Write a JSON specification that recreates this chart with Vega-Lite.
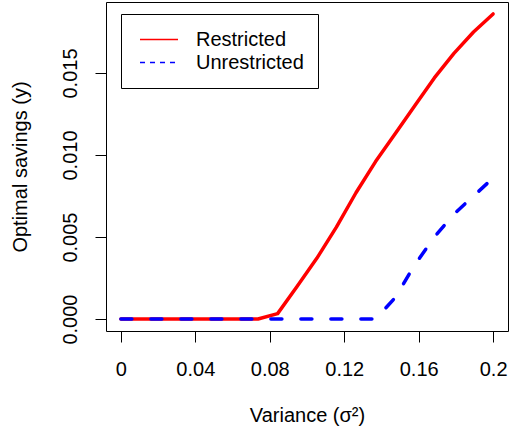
{
  "$schema": "https://vega.github.io/schema/vega-lite/v6.json",
  "width": 402,
  "height": 329,
  "autosize": {"type": "none"},
  "padding": {"left": 106, "top": 2, "right": 1, "bottom": 97},
  "background": "white",
  "config": {
    "view": {"stroke": "black", "strokeWidth": 1},
    "font": "Liberation Sans"
  },
  "data": {
    "values": [
      {"variance": 0, "savings": 0, "series": "Restricted"},
      {"variance": 0.010526, "savings": 0, "series": "Restricted"},
      {"variance": 0.021053, "savings": 0, "series": "Restricted"},
      {"variance": 0.031579, "savings": 0, "series": "Restricted"},
      {"variance": 0.042105, "savings": 0, "series": "Restricted"},
      {"variance": 0.052632, "savings": 0, "series": "Restricted"},
      {"variance": 0.063158, "savings": 0, "series": "Restricted"},
      {"variance": 0.073684, "savings": 0, "series": "Restricted"},
      {"variance": 0.084211, "savings": 0.00033, "series": "Restricted"},
      {"variance": 0.094737, "savings": 0.0020, "series": "Restricted"},
      {"variance": 0.105263, "savings": 0.0037, "series": "Restricted"},
      {"variance": 0.115789, "savings": 0.0056, "series": "Restricted"},
      {"variance": 0.126316, "savings": 0.0077, "series": "Restricted"},
      {"variance": 0.136842, "savings": 0.0096, "series": "Restricted"},
      {"variance": 0.147368, "savings": 0.0113, "series": "Restricted"},
      {"variance": 0.157895, "savings": 0.0130, "series": "Restricted"},
      {"variance": 0.168421, "savings": 0.0147, "series": "Restricted"},
      {"variance": 0.178947, "savings": 0.0162, "series": "Restricted"},
      {"variance": 0.189474, "savings": 0.0175, "series": "Restricted"},
      {"variance": 0.2, "savings": 0.0186, "series": "Restricted"},
      {"variance": 0, "savings": 0, "series": "Unrestricted"},
      {"variance": 0.010526, "savings": 0, "series": "Unrestricted"},
      {"variance": 0.021053, "savings": 0, "series": "Unrestricted"},
      {"variance": 0.031579, "savings": 0, "series": "Unrestricted"},
      {"variance": 0.042105, "savings": 0, "series": "Unrestricted"},
      {"variance": 0.052632, "savings": 0, "series": "Unrestricted"},
      {"variance": 0.063158, "savings": 0, "series": "Unrestricted"},
      {"variance": 0.073684, "savings": 0, "series": "Unrestricted"},
      {"variance": 0.084211, "savings": 0, "series": "Unrestricted"},
      {"variance": 0.094737, "savings": 0, "series": "Unrestricted"},
      {"variance": 0.105263, "savings": 0, "series": "Unrestricted"},
      {"variance": 0.115789, "savings": 0, "series": "Unrestricted"},
      {"variance": 0.126316, "savings": 0, "series": "Unrestricted"},
      {"variance": 0.136842, "savings": 0, "series": "Unrestricted"},
      {"variance": 0.147368, "savings": 0.0013, "series": "Unrestricted"},
      {"variance": 0.157895, "savings": 0.0033, "series": "Unrestricted"},
      {"variance": 0.168421, "savings": 0.0050, "series": "Unrestricted"},
      {"variance": 0.178947, "savings": 0.0064, "series": "Unrestricted"},
      {"variance": 0.189474, "savings": 0.0075, "series": "Unrestricted"},
      {"variance": 0.2, "savings": 0.0086, "series": "Unrestricted"}
    ]
  },
  "encoding": {
    "x": {
      "field": "variance",
      "type": "quantitative",
      "scale": {"domain": [-0.008, 0.208], "nice": false, "zero": false},
      "axis": {
        "values": [0, 0.04, 0.08, 0.12, 0.16, 0.2],
        "format": "~g",
        "domain": false,
        "grid": false,
        "tickSize": 11,
        "tickColor": "black",
        "tickWidth": 1,
        "labelFont": "Liberation Sans",
        "labelFontSize": 20,
        "labelColor": "black",
        "labelPadding": 17,
        "labelFlush": false,
        "labelOverlap": false,
        "title": "Variance (σ²)",
        "titleFont": "Liberation Sans",
        "titleFontSize": 20,
        "titleFontWeight": "normal",
        "titleColor": "black",
        "titlePadding": 26
      }
    },
    "y": {
      "field": "savings",
      "type": "quantitative",
      "scale": {"domain": [-0.00073, 0.01933], "nice": false, "zero": false},
      "axis": {
        "values": [0, 0.005, 0.01, 0.015],
        "format": ".3f",
        "domain": false,
        "grid": false,
        "tickSize": 11,
        "tickColor": "black",
        "tickWidth": 1,
        "labelFont": "Liberation Sans",
        "labelFontSize": 20,
        "labelColor": "black",
        "labelAngle": 270,
        "labelAlign": "center",
        "labelBaseline": "alphabetic",
        "labelPadding": 19,
        "labelOverlap": false,
        "title": "Optimal savings (y)",
        "titleFont": "Liberation Sans",
        "titleFontSize": 20,
        "titleFontWeight": "normal",
        "titleColor": "black",
        "titlePadding": 30
      }
    },
    "color": {
      "field": "series",
      "type": "nominal",
      "scale": {"domain": ["Restricted", "Unrestricted"], "range": ["#FF0000", "#0000FF"]},
      "legend": {
        "title": null,
        "orient": "none",
        "legendX": 15,
        "legendY": 12,
        "padding": 14,
        "symbolOffset": 4,
        "symbolType": "stroke",
        "symbolSize": 1444,
        "symbolStrokeWidth": 1.5,
        "labelOffset": 17,
        "labelFont": "Liberation Sans",
        "labelFontSize": 20,
        "labelColor": "black",
        "strokeColor": "black",
        "fillColor": "white",
        "cornerRadius": 0,
        "rowPadding": 0,
        "clipHeight": 23,
        "encode": {
          "symbols": {"update": {
            "strokeDash": {"signal": "datum.value === 'Unrestricted' ? [5, 5] : [1, 0]"}
          }}
        }
      }
    }
  },
  "layer": [
    {
      "transform": [{"filter": "datum.series === 'Restricted'"}],
      "mark": {"type": "line", "strokeWidth": 3.5, "strokeCap": "round", "strokeJoin": "round"}
    },
    {
      "transform": [{"filter": "datum.series === 'Unrestricted'"}],
      "mark": {"type": "line", "strokeWidth": 3.5, "strokeCap": "round", "strokeJoin": "round", "strokeDash": [11, 19]}
    }
  ]
}
